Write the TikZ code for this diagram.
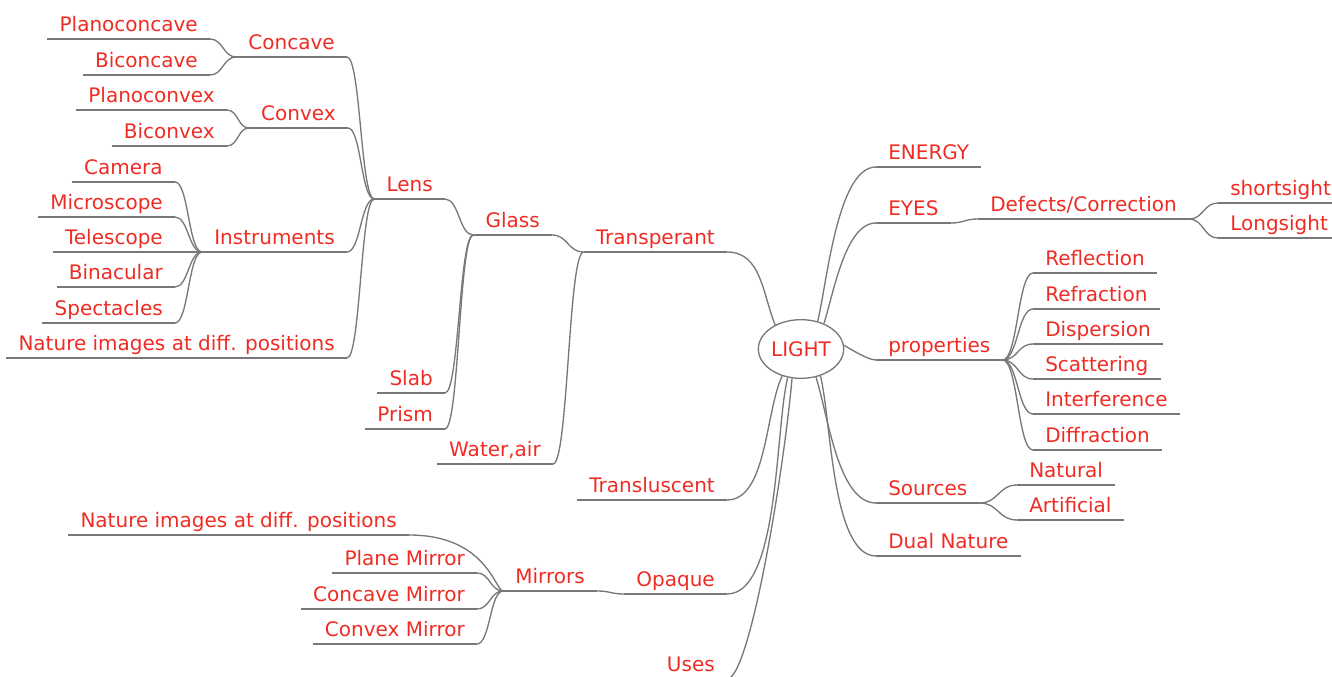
\documentclass[tikz,border=0pt]{standalone}
\usepackage{fontspec}
\setmainfont{DejaVu Sans}
\usepackage{tikz}
\usetikzlibrary{calc,shapes.geometric}

\definecolor{topicred}{RGB}{238,44,36}
\definecolor{linegray}{RGB}{120,120,120}
\newcommand\topicfont{\fontsize{15}{18}\selectfont}

\tikzset{
  branch/.style={draw=linegray, line width=1pt},
  topic/.style={text=topicred, font=\topicfont, inner xsep=9pt, inner ysep=5.25pt,
    text height=11pt, text depth=0pt,
    append after command={(\tikzlastnode.south west) edge[branch] (\tikzlastnode.south east)}},
  lt/.style={topic, anchor=south east},
  rt/.style={topic, anchor=south west},
  root/.style={ellipse, draw=linegray, line width=1pt, text=topicred, font=\topicfont,
    minimum width=64pt, minimum height=44pt, inner sep=0pt},
  fork/.style={to path={let \p1=(\tikztostart), \p2=(\tikztotarget) in
    .. controls ({0.5*\x1+0.5*\x2},\y1) and ({0.5*\x1+0.5*\x2},\y2) .. (\tikztotarget)}}
}

\begin{document}
\begin{tikzpicture}[x=0.75pt,y=-0.75pt]
\useasboundingbox (0,0) rectangle (1332,677);

\node[root] (L) at (801,349) {LIGHT};

\node[lt] (transp) at (727,252) {Transperant};
\node[lt] (transl) at (727,500) {Transluscent};
\node[lt] (opaque) at (727,594) {Opaque};
\node[lt] (uses) at (727,679) {Uses};

\node[lt] (glass) at (552,235) {Glass};
\node[lt] (water) at (553,464) {Water,air};
\node[lt] (lens) at (445,199) {Lens};
\node[lt] (slab) at (445,393) {Slab};
\node[lt] (prism) at (445,429) {Prism};

\node[lt] (concave) at (347,57) {Concave};
\node[lt] (convex) at (348,128) {Convex};
\node[lt] (instr) at (347,252) {Instruments};
\node[lt] (natlens) at (347,358) {Nature images at diff. positions};

\node[lt] (planocc) at (210,39) {Planoconcave};
\node[lt] (bicc) at (210,75) {Biconcave};
\node[lt] (planocv) at (227,110) {Planoconvex};
\node[lt] (bicv) at (227,146) {Biconvex};

\node[lt] (camera) at (175,182) {Camera};
\node[lt] (micro) at (175,217) {Microscope};
\node[lt] (tele) at (175,252) {Telescope};
\node[lt] (binac) at (175,287) {Binacular};
\node[lt] (spect) at (175,323) {Spectacles};

\node[lt] (mirrors) at (597,591) {Mirrors};
\node[lt] (natmir) at (409,535) {Nature images at diff. positions};
\node[lt] (plane) at (477,573) {Plane Mirror};
\node[lt] (concmir) at (477,609) {Concave Mirror};
\node[lt] (convmir) at (477,644) {Convex Mirror};

\node[rt] (energy) at (876,167) {ENERGY};
\node[rt] (eyes) at (876,223) {EYES};
\node[rt] (defects) at (978,219) {Defects/Correction};
\node[rt] (short) at (1218,203) {shortsight};
\node[rt] (long) at (1218,238) {Longsight};

\node[rt] (props) at (876,360) {properties};
\node[rt] (refl) at (1033,273) {Reflection};
\node[rt] (refr) at (1033,309) {Refraction};
\node[rt] (disp) at (1033,344) {Dispersion};
\node[rt] (scat) at (1033,379) {Scattering};
\node[rt] (interf) at (1033,414) {Interference};
\node[rt] (diffr) at (1033,450) {Diffraction};

\node[rt] (sources) at (876,503) {Sources};
\node[rt] (natural) at (1017,485) {Natural};
\node[rt] (artif) at (1017,520) {Artificial};
\node[rt] (dual) at (876,556) {Dual Nature};

\draw[branch] (L.137) to[out=112,in=0] (transp.south east);
\draw[branch] (L.235) to[out=245,in=0,looseness=0.75] (transl.south east);
\draw[branch] (L.245) to[out=256,in=0,looseness=0.6] (opaque.south east);
\draw[branch] (L.253) .. controls (784,470) and (750,679) .. (uses.south east);
\draw[branch] (L.59) to[out=76,in=180,looseness=0.6] (energy.south west);
\draw[branch] (L.48) to[out=72,in=180,looseness=0.7] (eyes.south west);
\draw[branch] (L.5) to[out=-30,in=180,looseness=0.6] (props.south west);
\draw[branch] (L.298) to[out=-72,in=180,looseness=0.7] (sources.south west);
\draw[branch] (L.306) to[out=-76,in=180,looseness=0.6] (dual.south west);

\foreach \c in {glass,water} \draw[branch] (\c.south east) to[fork] (transp.south west);
\foreach \c in {lens,slab,prism} \draw[branch] (\c.south east) to[fork] (glass.south west);
\foreach \c in {concave,convex,instr,natlens} \draw[branch] (\c.south east) to[fork] (lens.south west);
\foreach \c in {planocc,bicc} \draw[branch] (\c.south east) to[fork] (concave.south west);
\foreach \c in {planocv,bicv} \draw[branch] (\c.south east) to[fork] (convex.south west);
\foreach \c in {camera,micro,tele,binac,spect} \draw[branch] (\c.south east) to[fork] (instr.south west);
\draw[branch] (mirrors.south east) to[fork] (opaque.south west);
\draw[branch] (natmir.south east) .. controls +(78,0) and +(-8,0) .. (mirrors.south west);
\foreach \c in {plane,concmir,convmir} \draw[branch] (\c.south east) to[fork] (mirrors.south west);

\draw[branch] (eyes.south east) to[fork] (defects.south west);
\foreach \c in {short,long} \draw[branch] (defects.south east) to[fork] (\c.south west);
\foreach \c in {refl,refr,disp,scat,interf,diffr} \draw[branch] (props.south east) to[fork] (\c.south west);
\foreach \c in {natural,artif} \draw[branch] (sources.south east) to[fork] (\c.south west);
\end{tikzpicture}
\end{document}
